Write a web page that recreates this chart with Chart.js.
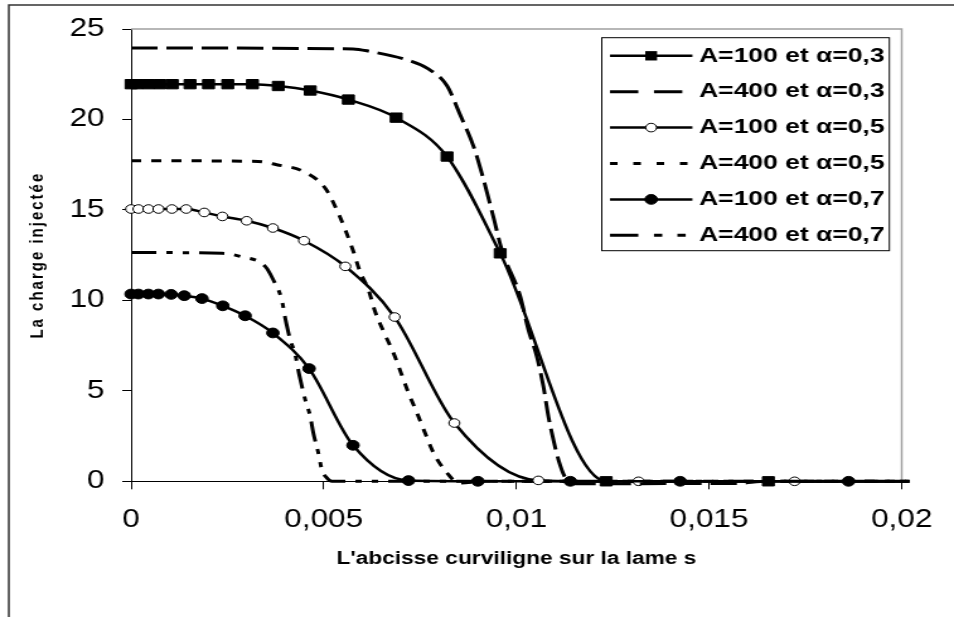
<!DOCTYPE html>
<html>
<head>
<meta charset="utf-8">
<script src="https://cdn.jsdelivr.net/npm/chart.js@4.4.1/dist/chart.umd.min.js"></script>
<style>
html, body { margin: 0; padding: 0; background: #fff; }
canvas { display: block; }
</style>
</head>
<body>
<canvas id="chart" width="757" height="617" style="width:954px;height:617px"></canvas>
<script>
// the original picture is wider than its fonts: draw at 757px and stretch to 954px
const seriesLabels = ['A=100 et α=0,3', 'A=400 et α=0,3', 'A=100 et α=0,5', 'A=400 et α=0,5', 'A=100 et α=0,7', 'A=400 et α=0,7'];
const xTickLabels = ['0', '0,005', '0,01', '0,015', '0,02'];
const yTickLabels = ['0', '5', '10', '15', '20', '25'];

// A=100, alpha=0,3
const x1 = [0, 0.00015, 0.00045, 0.00075, 0.00107, 0.00153, 0.00201, 0.00251, 0.00315, 0.00382, 0.00465, 0.00564, 0.00688, 0.0082, 0.00958, 0.01233, 0.01654, 0.0202];
const y1 = [21.95, 21.95, 21.95, 21.95, 21.95, 21.95, 21.95, 21.95, 21.95, 21.85, 21.6, 21.1, 20.1, 17.95, 12.6, 0, 0, 0];
// A=400, alpha=0,3
const x2 = [0, 0.00576, 0.0062, 0.00724, 0.00768, 0.0082, 0.00854, 0.00889, 0.0091, 0.0094, 0.00962, 0.0101, 0.01031, 0.01053, 0.0107, 0.01083, 0.01096, 0.01109, 0.01127, 0.01153, 0.0157, 0.0165, 0.0202];
const y2 = [23.95, 23.9, 23.76, 23.24, 22.84, 21.86, 20.26, 18.5, 17.04, 14.64, 12.8, 10.22, 8.38, 6.9, 5.25, 3.59, 2.3, 1.2, 0.2, -0.13, -0.12, 0, 0];
// A=100, alpha=0,5
const x3 = [0, 0.00019, 0.00045, 0.00071, 0.00106, 0.00143, 0.0019, 0.00237, 0.003, 0.00368, 0.00449, 0.00556, 0.00684, 0.00839, 0.01057, 0.01317, 0.01722, 0.0202];
const y3 = [15.05, 15.05, 15.05, 15.05, 15.05, 15.05, 14.86, 14.64, 14.4, 14.0, 13.3, 11.88, 9.08, 3.22, 0.05, 0, 0, 0];
// A=400, alpha=0,5
const x4 = [0, 0.0033, 0.00378, 0.00447, 0.00504, 0.00534, 0.00556, 0.00577, 0.00594, 0.00616, 0.00633, 0.00655, 0.00681, 0.0072, 0.00742, 0.00763, 0.00785, 0.0082, 0.0085, 0.0092, 0.0202];
const y4 = [17.72, 17.68, 17.5, 17.13, 16.2, 15.0, 13.9, 12.7, 11.6, 10.6, 9.4, 8.29, 7.09, 4.88, 3.78, 2.67, 1.57, 0.46, -0.09, 0, 0];
// A=100, alpha=0,7
const x5 = [0, 0.00019, 0.00045, 0.00071, 0.00104, 0.00138, 0.00184, 0.00238, 0.00296, 0.00368, 0.00462, 0.00576, 0.0072, 0.009, 0.0114, 0.01425, 0.01862, 0.0202];
const y5 = [10.35, 10.35, 10.35, 10.35, 10.33, 10.26, 10.1, 9.7, 9.15, 8.2, 6.23, 1.99, 0.04, 0, 0, 0, 0, 0];
// A=400, alpha=0,7
const x6 = [0, 0.00236, 0.00283, 0.00348, 0.00369, 0.00391, 0.004, 0.00413, 0.00426, 0.00437, 0.00452, 0.00465, 0.00473, 0.00486, 0.00495, 0.00508, 0.00521, 0.006, 0.0202];
const y6 = [12.65, 12.6, 12.43, 11.88, 11.14, 10.04, 9.03, 7.83, 7.0, 5.84, 4.51, 3.59, 2.67, 1.57, 0.65, 0.19, 0, 0, 0];

const FONT = '"Liberation Sans", Arial, sans-serif';

function pts(xs, ys) {
	return xs.map((x, i) => ({ x: x, y: ys[i] }));
}

function markerSeries(label, xs, ys, style, r, fill) {
	return {
		label: label,
		data: pts(xs, ys),
		showLine: true,
		borderColor: '#000',
		borderWidth: 2.5,
		pointStyle: style,
		pointRadius: c => (c.raw && c.raw.x > 0.02 ? 0 : r),
		pointBackgroundColor: fill,
		pointBorderColor: '#000',
		pointBorderWidth: 1,
		cubicInterpolationMode: 'monotone',
		clip: false
	};
}

function dashSeries(label, xs, ys, dash, legendDash) {
	return {
		label: label,
		data: pts(xs, ys),
		showLine: true,
		borderColor: '#000',
		borderWidth: 3,
		borderDash: dash,
		legendDash: legendDash,
		pointRadius: 0,
		cubicInterpolationMode: 'monotone',
		clip: false
	};
}

const datasets = [
	markerSeries(seriesLabels[0], x1, y1, 'rect', 6.6, '#000'),
	dashSeries(seriesLabels[1], x2, y2, [21, 7], [22.5, 12.4]),
	markerSeries(seriesLabels[2], x3, y3, 'circle', 4.3, '#fff'),
	dashSeries(seriesLabels[3], x4, y4, [8, 8], [6, 12.5]),
	markerSeries(seriesLabels[4], x5, y5, 'circle', 4.9, '#000'),
	dashSeries(seriesLabels[5], x6, y6, [20, 8, 5, 8, 5, 8], [22.5, 12.4, 6.6, 12, 6.6, 12])
];

const framePlugin = {
	id: 'framePlugin',
	beforeDraw(chart) {
		const ctx = chart.ctx;
		ctx.save();
		ctx.fillStyle = '#fff';
		ctx.fillRect(0, 0, chart.width, chart.height);
		ctx.strokeStyle = '#333';
		ctx.lineWidth = 1.5;
		ctx.strokeRect(7, 5, chart.width + 20, chart.height + 20);
		ctx.restore();

		// wider letters on the y title, as in the picture
		const ys = chart.scales.y;
		if (ys && !ys.__spaced) {
			const orig = ys.drawTitle;
			ys.drawTitle = function () {
				const c = this.ctx;
				c.save();
				c.letterSpacing = '2px';
				orig.call(this);
				c.restore();
			};
			ys.__spaced = true;
		}
	},
	beforeDatasetsDraw(chart) {
		const { ctx, chartArea: a } = chart;
		ctx.save();
		ctx.strokeStyle = '#a0a0a0';
		ctx.lineWidth = 1.5;
		ctx.beginPath();
		ctx.moveTo(a.left, a.top);
		ctx.lineTo(a.right, a.top);
		ctx.lineTo(a.right, a.bottom);
		ctx.stroke();
		ctx.restore();
	}
};

const boxLegend = {
	id: 'boxLegend',
	afterDraw(chart) {
		const ctx = chart.ctx;
		const a = chart.chartArea;
		const bx = a.right - 238, by = a.top + 8.7, bw = 228.2, bh = 213;
		ctx.save();
		ctx.fillStyle = '#fff';
		ctx.fillRect(bx, by, bw, bh);
		ctx.strokeStyle = '#000';
		ctx.lineWidth = 1;
		ctx.strokeRect(bx, by, bw, bh);
		chart.data.datasets.forEach((ds, i) => {
			const yy = by + 18.1 + i * 35.9;
			ctx.strokeStyle = '#000';
			ctx.lineWidth = ds.borderWidth;
			ctx.setLineDash(ds.legendDash || []);
			ctx.beginPath();
			ctx.moveTo(bx + 6.5, yy);
			ctx.lineTo(bx + 71.9, yy);
			ctx.stroke();
			ctx.setLineDash([]);
			const mx = bx + 39.2;
			if (ds.pointStyle === 'rect') {
				const s = 6.6 * Math.SQRT1_2;
				ctx.fillStyle = '#000';
				ctx.fillRect(mx - s, yy - s, 2 * s, 2 * s);
			} else if (ds.pointStyle === 'circle') {
				const r = ds.pointBackgroundColor === '#fff' ? 4.3 : 4.9;
				ctx.beginPath();
				ctx.arc(mx, yy, r, 0, Math.PI * 2);
				ctx.fillStyle = ds.pointBackgroundColor;
				ctx.fill();
				ctx.lineWidth = 1;
				ctx.stroke();
			}
			ctx.fillStyle = '#000';
			ctx.font = 'bold 21px ' + FONT;
			ctx.textBaseline = 'middle';
			ctx.textAlign = 'left';
			ctx.fillText(ds.label, bx + 77.2, yy);
		});
		ctx.restore();
	}
};

new Chart(document.getElementById('chart'), {
	type: 'scatter',
	data: { datasets: datasets },
	options: {
		responsive: false,
		animation: false,
		devicePixelRatio: 1,
		layout: { padding: { left: 0, right: 41.5, top: 29, bottom: 0 } },
		plugins: {
			legend: { display: false },
			tooltip: { enabled: false }
		},
		scales: {
			x: {
				type: 'linear',
				min: 0,
				max: 0.02,
				afterFit: s => { s.height = 135.7; },
				border: { display: true, color: '#000', width: 1 },
				grid: { display: true, drawOnChartArea: false, drawTicks: true, tickLength: 8, color: '#000' },
				ticks: {
					stepSize: 0.005,
					autoSkip: false,
					maxRotation: 0,
					padding: 16,
					color: '#000',
					font: { family: FONT, size: 25 },
					callback: (v, i) => xTickLabels[i]
				},
				title: {
					display: true,
					text: "L'abcisse curviligne sur la lame s",
					color: '#000',
					font: { family: FONT, size: 18, weight: 'bold' },
					padding: { top: 0, bottom: 47 }
				}
			},
			y: {
				type: 'linear',
				min: 0,
				max: 25,
				afterFit: s => { s.width = 104; },
				border: { display: true, color: '#000', width: 1 },
				grid: { display: true, drawOnChartArea: false, drawTicks: true, tickLength: 7, color: '#000' },
				ticks: {
					stepSize: 5,
					padding: 14,
					color: '#000',
					font: { family: FONT, size: 25 },
					callback: (v, i) => yTickLabels[i]
				},
				title: {
					display: true,
					text: 'La charge injectée',
					color: '#000',
					font: { family: FONT, size: 15, weight: 'bold' },
					padding: { top: 21, bottom: 0 }
				}
			}
		}
	},
	plugins: [framePlugin, boxLegend]
});
</script>
</body>
</html>
